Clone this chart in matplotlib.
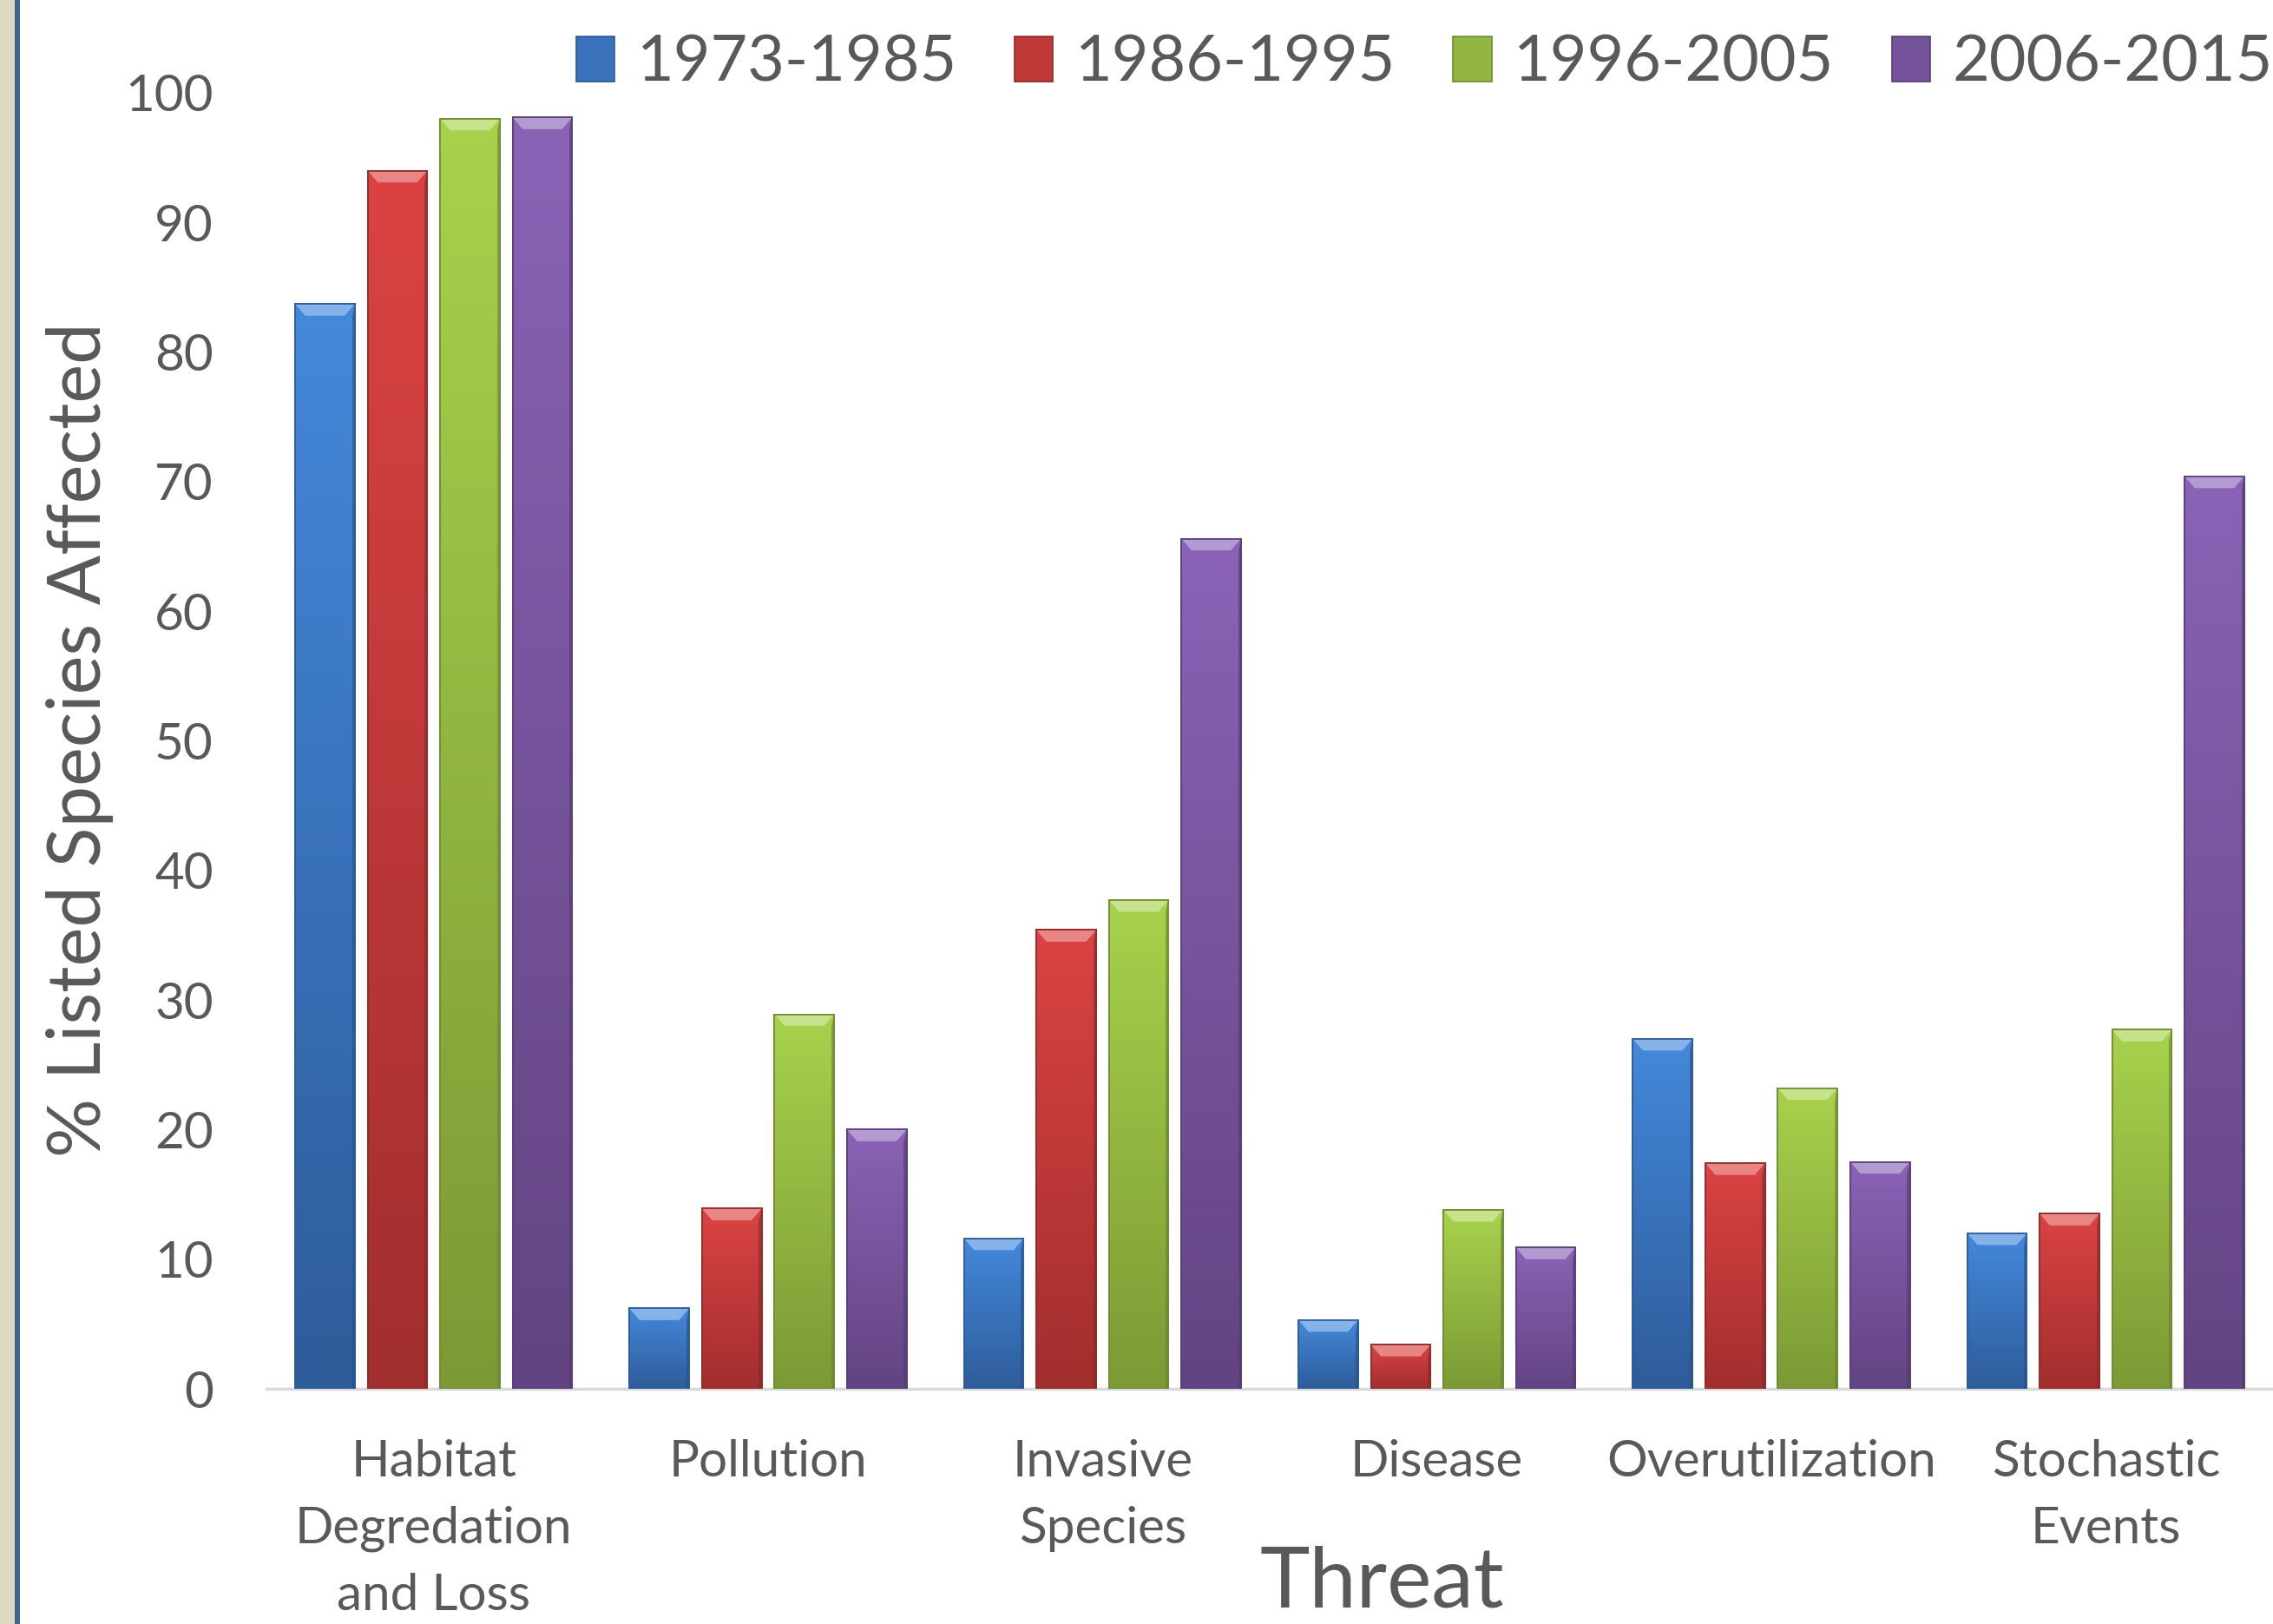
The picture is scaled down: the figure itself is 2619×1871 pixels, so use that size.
import numpy as np
import matplotlib
matplotlib.use("Agg")
import matplotlib.pyplot as plt
from matplotlib.patches import Rectangle, Polygon
from matplotlib.colors import to_rgb

# ---- data -----------------------------------------------------------------
threats = ["Habitat\nDegredation\nand Loss", "Pollution", "Invasive\nSpecies",
           "Disease", "Overutilization", "Stochastic\nEvents"]
periods = ["1973-1985", "1986-1995", "1996-2005", "2006-2015"]
pct_1973_1985 = [83.7, 6.2, 11.6, 5.3, 27.0, 12.0]
pct_1986_1995 = [94.0, 13.9, 35.4, 3.4, 17.4, 13.5]
pct_1996_2005 = [98.0, 28.9, 37.7, 13.8, 23.2, 27.7]
pct_2006_2015 = [98.1, 20.0, 65.6, 10.9, 17.5, 70.4]
y_ticks = [0, 10, 20, 30, 40, 50, 60, 70, 80, 90, 100]

series = [pct_1973_1985, pct_1986_1995, pct_1996_2005, pct_2006_2015]

# (top colour, bottom colour) of each series' vertical gradient
shades = [("#4489DB", "#2E5C9A"),
          ("#DB4343", "#A22E2E"),
          ("#A8D24C", "#7B9A35"),
          ("#8A63B6", "#624482")]
edge_cols = ["#2C5A93", "#8E2A2A", "#6E8A30", "#573D77"]

TEXT = "#595959"
FONT = "Lato"
plt.rcParams["font.family"] = [FONT, "DejaVu Sans"]

W, H = 2619, 1871
fig = plt.figure(figsize=(W / 100, H / 100), dpi=100)
fig.patch.set_facecolor("white")

# decorative strip on the left edge
fig.add_artist(Rectangle((0, 0), 17 / W, 1, transform=fig.transFigure,
                         facecolor="#DFD9C4", edgecolor="none"))
fig.add_artist(Rectangle((17 / W, 0), 6 / W, 1, transform=fig.transFigure,
                         facecolor="#3D6596", edgecolor="none"))

ax_left, ax_bottom = 307 / W, 1 - 1600 / H
ax_top = 1 - 107 / H
ax = fig.add_axes([ax_left, ax_bottom, 1 - ax_left, ax_top - ax_bottom])
ax.set_facecolor("none")

x = np.arange(len(threats))
pitch = 0.2167
width = 0.178
offsets = (np.arange(len(series)) - 1.5) * pitch


def mix(c, other, t):
    a, b = np.array(to_rgb(c)), np.array(to_rgb(other))
    return tuple(a * (1 - t) + b * t)


containers = []
for i, (vals, (ctop, cbot)) in enumerate(zip(series, shades)):
    bars = ax.bar(x + offsets[i], vals, width, color=mix(ctop, cbot, 0.5),
                  edgecolor=edge_cols[i], linewidth=1.2, label=periods[i],
                  zorder=2)
    containers.append(bars)
    grad = np.linspace(0, 1, 256)[:, None, None]
    img = (np.array(to_rgb(ctop)) * (1 - grad) + np.array(to_rgb(cbot)) * grad)
    for patch in bars:
        x0, h = patch.get_x(), patch.get_height()
        x1 = x0 + patch.get_width()
        im = ax.imshow(img, extent=(x0, x1, 0, h), origin="upper",
                       aspect="auto", zorder=2.1, interpolation="bilinear")
        im.set_clip_path(patch)
        # bevelled top edge
        dx, dy = 0.03, min(0.9, h * 0.3)
        ax.add_patch(Polygon([(x0, h), (x1, h), (x1 - dx, h - dy), (x0 + dx, h - dy)],
                             closed=True, facecolor=mix(ctop, "white", 0.35),
                             edgecolor="none", zorder=2.2))
        # slightly darker right side
        ax.add_patch(Polygon([(x1, h), (x1, 0), (x1 - 0.008, 0), (x1 - 0.008, h - dy)],
                             closed=True, facecolor=mix(cbot, "black", 0.15),
                             edgecolor="none", alpha=0.6, zorder=2.2))
        # outline redrawn on top of the fill
        ax.add_patch(Rectangle((x0, 0), x1 - x0, h, facecolor="none",
                               edgecolor=edge_cols[i], linewidth=1.2, zorder=2.3))

ax.set_xlim(-0.5, len(threats) - 0.5)
ax.set_ylim(0, 100)
ax.set_yticks(y_ticks)
ax.set_xticks(x)
ax.set_xticklabels(threats, linespacing=1.55)

for s in ("top", "right", "left"):
    ax.spines[s].set_visible(False)
ax.spines["bottom"].set_color("#D9D9D9")
ax.spines["bottom"].set_linewidth(2.5)
ax.spines["bottom"].set_zorder(1)

ax.tick_params(axis="y", length=0, pad=44, labelsize=42, labelcolor=TEXT)
ax.tick_params(axis="x", length=0, pad=42, labelsize=42, labelcolor=TEXT)

fig.text(92 / W, 1 - 852 / H, "% Listed Species Affected", rotation=90,
         ha="center", va="center", fontsize=61, color=TEXT)
fig.text(1592 / W, 1 - 1851 / H, "Threat", ha="center", va="baseline",
         fontsize=70, color=TEXT)

fig.legend(handles=containers, labels=periods, loc="center right",
           bbox_to_anchor=(1.0, 1 - 73 / H), ncol=4, frameon=False,
           fontsize=53, labelcolor=TEXT, handlelength=0.6, handleheight=0.7,
           handletextpad=0.35, columnspacing=0.9, borderpad=0,
           borderaxespad=0)

fig.savefig("out.png", dpi=100, facecolor="white")
